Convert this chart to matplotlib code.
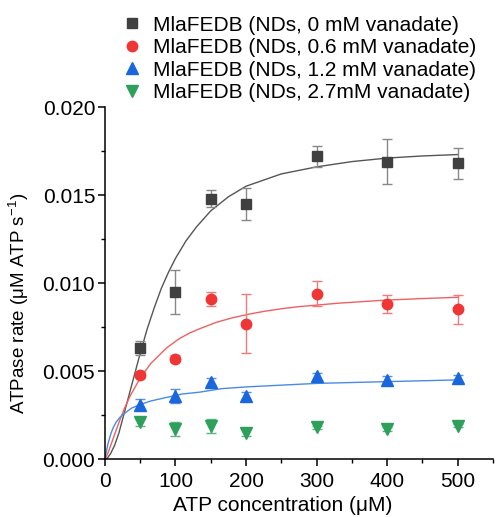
import matplotlib.pyplot as plt
import numpy as np

plt.rcParams['font.family'] = ['Liberation Sans', 'DejaVu Sans']

# measured points
atp = [50, 100, 150, 200, 300, 400, 500]

rate_0 = [0.0063, 0.0095, 0.0148, 0.0145, 0.0172, 0.0169, 0.0168]
err_0 = [0.0004, 0.00125, 0.0005, 0.0009, 0.0006, 0.0013, 0.0009]

rate_06 = [0.0048, 0.0057, 0.0091, 0.0077, 0.0094, 0.0088, 0.0085]
err_06 = [0.0002, 0.0002, 0.0004, 0.0017, 0.0007, 0.0005, 0.0008]

rate_12 = [0.0031, 0.0036, 0.0044, 0.0036, 0.0047, 0.0045, 0.0046]
err_12 = [0.0003, 0.0004, 0.0002, 0.0002, 0.0002, 0.0002, 0.0002]

rate_27 = [0.0021, 0.0017, 0.0019, 0.0015, 0.0018, 0.0017, 0.0019]
err_27 = [0.0002, 0.0004, 0.0004, 0.0002, 0.0001, 0.0001, 0.0001]

# fitted curves
fit_x_0 = [0, 4, 8, 14, 20, 28, 36, 44, 50, 60, 70, 80, 90, 100, 115, 130, 150, 175, 200, 250, 300, 350, 400, 450, 500]
fit_y_0 = [0, 0.00008, 0.0003, 0.0008, 0.0015, 0.0027, 0.0039, 0.0051, 0.0060, 0.0074, 0.0086, 0.0097,
           0.0106, 0.0114, 0.0124, 0.0132, 0.0141, 0.0149, 0.0155, 0.0162, 0.0166, 0.0169, 0.0171, 0.01722, 0.0173]

fit_x_06 = [0, 4, 10, 16, 22, 28, 36, 50, 65, 87, 105, 120, 134, 158, 181, 205, 228, 250, 275, 332, 398, 450, 500]
fit_y_06 = [0, 0.0003, 0.00097, 0.00165, 0.0023, 0.0029, 0.0036, 0.0046, 0.00543, 0.0063, 0.00683, 0.00716,
            0.0074, 0.00777, 0.00803, 0.00824, 0.00841, 0.00854, 0.00866, 0.00886, 0.00903, 0.00912, 0.00919]

fit_x_12 = [0, 1, 2, 4, 6, 9, 12, 16, 22, 28, 38, 50, 65, 87, 110, 134, 165, 200, 250, 300, 400, 500]
fit_y_12 = [0, 0.0002, 0.0004, 0.0008, 0.0011, 0.0015, 0.0018, 0.0021, 0.0024, 0.0026, 0.0029, 0.0031,
            0.0033, 0.0035, 0.0037, 0.0038, 0.0040, 0.0041, 0.0042, 0.0043, 0.0044, 0.0045]

labels = ["MlaFEDB (NDs, 0 mM vanadate)",
          "MlaFEDB (NDs, 0.6 mM vanadate)",
          "MlaFEDB (NDs, 1.2 mM vanadate)",
          "MlaFEDB (NDs, 2.7mM vanadate)"]

fig = plt.figure(figsize=(4.97, 5.17), dpi=100)
ax = fig.add_axes([0.211, 0.112, 0.781, 0.681])

series = [
    (rate_0, err_0, "s", "#404040", "#888888", 6.5, fit_x_0, fit_y_0, "#555555"),
    (rate_06, err_06, "o", "#f03535", "#f37a7a", 7.5, fit_x_06, fit_y_06, "#f06060"),
    (rate_12, err_12, "^", "#1a66dd", "#5b8fe0", 8, fit_x_12, fit_y_12, "#4a8ae6"),
    (rate_27, err_27, "v", "#2ea05c", "#5bb57f", 8, None, None, None),
]

handles = []
for (y, e, m, c, ec, ms, fx, fy, fc), lab in zip(series, labels):
    if fx is not None:
        ax.plot(fx, fy, color=fc, lw=1.0, zorder=2)
    ax.errorbar(atp, y, yerr=e, fmt="none", ecolor=ec, elinewidth=1.0,
                capsize=3.5, capthick=1.0, zorder=3)
    h, = ax.plot(atp, y, m, color=c, ms=ms, mec=c, ls="none", zorder=4, label=lab)
    handles.append(h)

ax.set_xlim(0, 550)
ax.set_ylim(0, 0.020)
ax.set_xticks([0, 100, 200, 300, 400, 500])
ax.set_xticks(np.arange(50, 551, 100), minor=True)
ax.set_yticks([0, 0.005, 0.010, 0.015, 0.020])
ax.set_yticks([0.0025, 0.0075, 0.0125, 0.0175], minor=True)
ax.set_yticklabels(["0.000", "0.005", "0.010", "0.015", "0.020"])

for s in ["top", "right"]:
    ax.spines[s].set_visible(False)
for s in ["left", "bottom"]:
    ax.spines[s].set_linewidth(1.1)
ax.tick_params(which="major", direction="out", length=5, width=1.1, labelsize=15)
ax.tick_params(axis="x", which="major", pad=4)
ax.tick_params(axis="y", which="major", pad=2)
ax.tick_params(which="minor", direction="out", length=3, width=1.0)

ax.set_xlabel("ATP concentration (μM)", fontsize=15)
ax.set_ylabel("ATPase rate (μM ATP s$^{\\mathregular{-1}}$)", fontsize=13.5)
ax.xaxis.set_label_coords(0.459, -0.105)
ax.yaxis.set_label_coords(-0.19, 0.443)

fig.legend(handles=handles, loc="upper left", bbox_to_anchor=(0.215, 0.998),
           frameon=False, fontsize=15, handlelength=1.0, handletextpad=0.5,
           labelspacing=0.17, borderaxespad=0.3)

plt.savefig("out.png", dpi=100)
